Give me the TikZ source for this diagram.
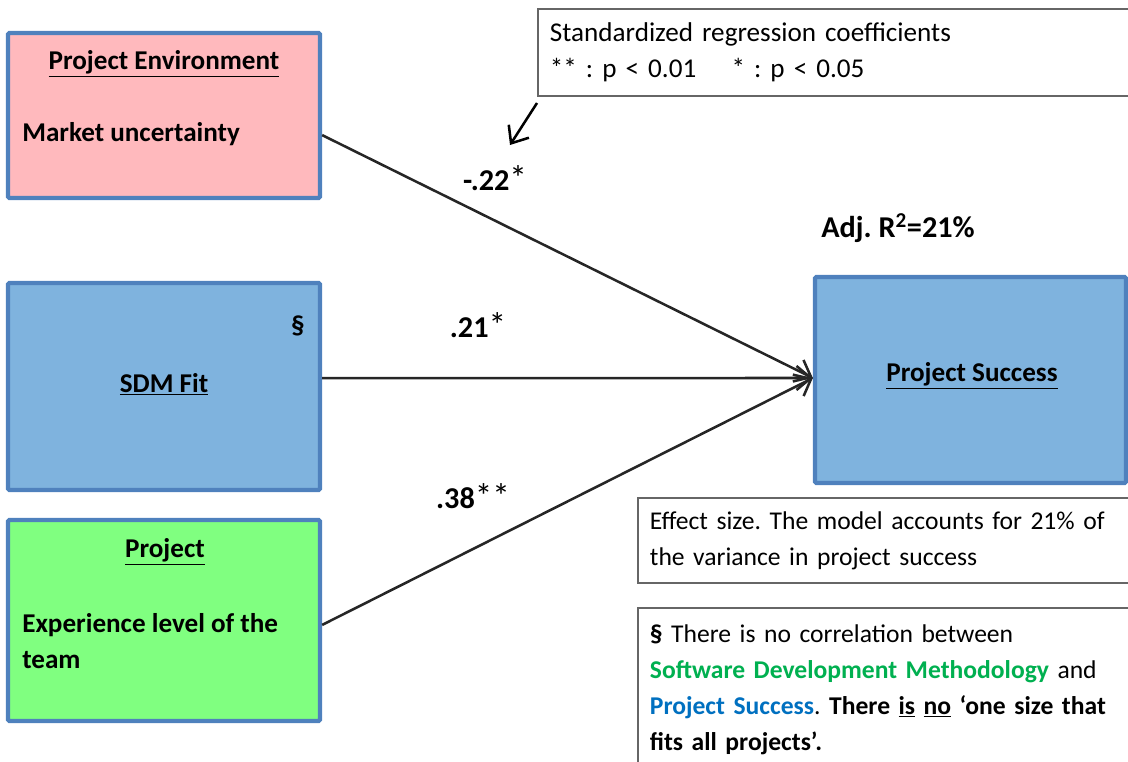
\documentclass[tikz,border=0pt]{standalone}
\usepackage{fontspec}
\setmainfont{Carlito}
\usepackage{xcolor}
\usetikzlibrary{arrows.meta,positioning}
\definecolor{frame}{HTML}{4F81BD}
\definecolor{envfill}{HTML}{FFB9BD}
\definecolor{sdmfill}{HTML}{7FB3DE}
\definecolor{teamfill}{HTML}{80FF80}
\definecolor{notegray}{HTML}{666666}
\definecolor{ink}{HTML}{262626}
\definecolor{sdmgreen}{HTML}{00B050}
\definecolor{psblue}{HTML}{0070C0}
\newcommand{\sigstar}[1]{{\mdseries\fontsize{25}{26}\selectfont #1}}
\frenchspacing

\begin{document}
\begin{tikzpicture}[x=0.025cm,y=-0.025cm,font=\fontsize{19.3}{25.5}\selectfont,
  >={Straight Barb[length=3.6mm,width=6mm,line width=1.8pt]},
  block/.style={draw=frame,line width=3pt,minimum width=7.8cm,rounded corners=1pt},
  note/.style={draw=notegray,line width=1.3pt,fill=white,anchor=north west,
               align=left,text width=14.4cm,inner xsep=0.3cm},
  smallnote/.style={note,font=\fontsize{18.2}{25.5}\selectfont},
  label/.style={inner sep=0pt,font=\fontsize{19.3}{26}\selectfont\bfseries},
  coefval/.style={inner sep=0pt,font=\fontsize{21.5}{26}\selectfont\bfseries},
  effect/.style={->,draw=ink,line width=1.8pt}]
  \clip (0,0) rectangle (1128,761);
  % left: the three predictors
  \node[block,fill=envfill,minimum height=4.125cm] (env) at (164,115.5) {};
  \node[label] (envtitle) at (164,64) {\underline{Project Environment}};
  \node[label,anchor=west] (envtext) at (22,134) {Market uncertainty};
  \node[block,fill=sdmfill,minimum height=5.175cm] (sdm) at (164,386.5) {};
  \node[label] (sdmmark) at (298,326) {§};
  \node[label] (sdmtitle) at (164,384) {\underline{SDM Fit}};
  \node[block,fill=teamfill,minimum height=5.025cm] (team) at (164,620.5) {};
  \node[label] (teamtitle) at (165,552) {\underline{Project}};
  \node[label,anchor=west,align=left] (teamtext) at (22,641) {Experience level of the\\team};
  % right: outcome
  \node[block,fill=sdmfill,minimum width=7.775cm,minimum height=5.15cm] (succ) at (970.5,380) {};
  \node[label] (succtitle) at (972,376) {\underline{Project Success}};
  \node[coefval] (adjr) at (898,228) {Adj. R\textsuperscript{2}=21\%};
  % paths and coefficients
  \draw[effect] ([yshift=-0.49cm]env.east) -- ([yshift=0.05cm]succ.west);
  \draw[effect] ([yshift=0.21cm]sdm.east) -- ([yshift=0.05cm]succ.west);
  \draw[effect] ([yshift=-0.11cm]team.east) -- ([yshift=0.05cm]succ.west);
  \node[coefval] (c22) at (495,178) {-.22\sigstar{*}};
  \node[coefval] (c21) at (478,325) {.21\sigstar{*}};
  \node[coefval] (c38) at (473,496) {.38\sigstar{**}};
  % notes
  \node[note,minimum height=2.175cm] (coef) at (537,8)
    {Standardized regression coefficients\\{}** : p < 0.01\hspace{1.3em}* : p < 0.05};
  \node[smallnote,minimum height=2.125cm] (size) at (637,497)
    {Effect size. The model accounts for 21\% of\\the variance in project success};
  \node[smallnote,inner ysep=0.3cm,minimum height=4.5cm,text depth=3.2cm] (nofit) at (637,607)
    {\textbf{§} There is no correlation between\\
     \textcolor{sdmgreen}{\bfseries Software Development Methodology} and\\
     \textcolor{psblue}{\bfseries Project Success}. {\bfseries There \underline{is} \underline{no} `one size that}\\
     {\bfseries fits all projects'.}};
  \coordinate (ptail) at (537,103);
  \coordinate (ptip) at (510,145);
  \draw[->,line width=1.8pt] (ptail) -- (ptip);
\end{tikzpicture}
\end{document}
